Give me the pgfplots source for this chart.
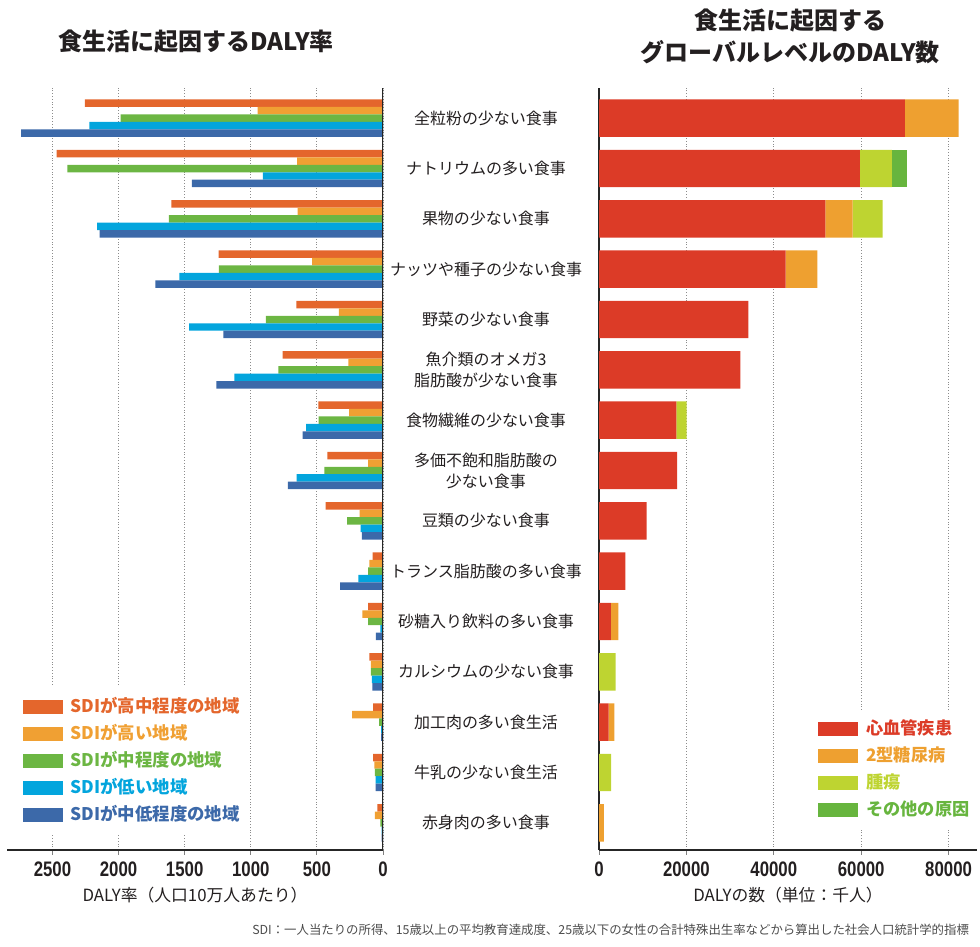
\documentclass[border=0pt]{standalone}
\usepackage{fontspec}
\setmainfont{Noto Sans CJK JP}
\newfontfamily\numfont{Liberation Sans}
\usepackage{graphicx}
\usepackage{pgfplots}
\usepackage{pgfplotstable}
\pgfplotsset{compat=1.18}

\definecolor{sdiA}{HTML}{E4662C}
\definecolor{sdiB}{HTML}{F0A033}
\definecolor{sdiC}{HTML}{6CB643}
\definecolor{sdiD}{HTML}{03A5DD}
\definecolor{sdiE}{HTML}{3C69A9}
\definecolor{cvd}{HTML}{DC3B27}
\definecolor{dm}{HTML}{EEA030}
\definecolor{tumor}{HTML}{BED431}
\definecolor{other}{HTML}{67B53E}
\definecolor{txt}{HTML}{231F20}

\newcommand\tl[1]{\scalebox{0.8}[1]{#1}}
\newcommand\tickfont{\numfont\bfseries\fontsize{10.5}{12}\selectfont}

% DALY rate per 100k, by SDI group (y = 14 is the top row)
\pgfplotstableread{
y a b c d e
14 2254 948 1984 2221 2738
13 2468 650 2388 908 1445
12 1601 645 1619 2163 2143
11 1243 537 1241 1541 1722
10 656 333 885 1467 1208
9 759 262 792 1125 1261
8 489 257 486 582 608
7 421 113 444 653 719
6 434 176 272 169 159
5 78 103 113 187 325
4 113 156 113 20 53
3 103 91 91 85 81
2 75 234 30 15 15
1 75 66 61 55 55
0 43 61 20 10 10
}\ratetable

% global DALY count (thousands), by cause
\pgfplotstableread{
y cvd dm tumor other
14 70000 12300 0 0
13 59700 0 7300 3500
12 51800 6250 6870 0
11 42700 7250 0 0
10 34200 0 0 0
9 32350 0 0 0
8 17700 0 2370 0
7 17850 0 0 0
6 10900 0 0 0
5 6050 0 0 0
4 2700 1750 0 0
3 0 0 3800 0
2 2200 1300 0 0
1 0 0 2750 0
0 0 1100 0 0
}\dalytable

\pgfplotsset{
  swatch/.style={legend image code/.code={\fill[##1] (0pt,-3.6pt) rectangle (20pt,3.6pt); \path (23pt,0pt);}},
  common/.style={
    scale only axis, height=381pt, anchor=south west,
    ymin=-0.54, ymax=14.6,
    axis x line*=bottom,
    axis line style={-, black!85, line width=0.6pt},
    tick align=outside, major tick length=2.5pt,
    x tick style={black!50, line width=0.4pt},
    xticklabel style={font=\tickfont, text=txt},
    xmajorgrids, grid style={black!45, densely dotted, line width=0.4pt},
    xlabel style={at={(axis description cs:0.5,0)}, anchor=center, yshift=-22.5pt,
      font=\fontsize{8.4}{10}\selectfont, text=txt},
    legend cell align=left,
  },
}

\begin{document}
\begin{tikzpicture}
\path[use as bounding box] (0,0) rectangle (490pt,473.5pt);

\begin{axis}[common,
  at={(3.5pt,48.5pt)}, width=188pt,
  x dir=reverse, xmin=0, xmax=2844,
  xbar, bar width=3.74pt,
  axis y line=none,
  xtick={0,500,...,2500},
  xticklabels={\tl{0},\tl{500},\tl{1000},\tl{1500},\tl{2000},\tl{2500}},
  ytick=\empty,
  xlabel={DALY率（人口10万人あたり）},
  legend style={at={(axis description cs:0.019,0.02)}, anchor=south west,
    draw=none, fill=white, inner sep=4pt, row sep=2pt,
    font=\bfseries\fontsize{8.7}{10}\selectfont,
    nodes={inner sep=1pt, text height=7.5pt, text depth=2pt}},
]
\addplot[fill=sdiA, draw=none, bar shift=7.48pt, swatch] table[x=a, y=y] {\ratetable};
\addlegendentry{\textcolor{sdiA}{SDIが高中程度の地域}}
\addplot[fill=sdiB, draw=none, bar shift=3.74pt, swatch] table[x=b, y=y] {\ratetable};
\addlegendentry{\textcolor{sdiB}{SDIが高い地域}}
\addplot[fill=sdiC, draw=none, bar shift=0pt, swatch] table[x=c, y=y] {\ratetable};
\addlegendentry{\textcolor{sdiC}{SDIが中程度の地域}}
\addplot[fill=sdiD, draw=none, bar shift=-3.74pt, swatch] table[x=d, y=y] {\ratetable};
\addlegendentry{\textcolor{sdiD}{SDIが低い地域}}
\addplot[fill=sdiE, draw=none, bar shift=-7.48pt, swatch] table[x=e, y=y] {\ratetable};
\addlegendentry{\textcolor{sdiE}{SDIが中低程度の地域}}
\draw[black!85, line width=0.6pt] (axis cs:0,-0.54) -- (axis cs:0,14.6);
\end{axis}

\begin{axis}[common,
  at={(299.5pt,48.5pt)}, width=189pt,
  xmin=0, xmax=86500,
  xbar stacked, bar width=18.7pt,
  axis y line*=left,
  scaled x ticks=false,
  xtick={0,20000,...,80000},
  xticklabels={\tl{0},\tl{20000},\tl{40000},\tl{60000},\tl{80000}},
  ytick={0,...,14},
  y tick style={draw=none},
  yticklabels={赤身肉の多い食事, 牛乳の少ない食生活, 加工肉の多い食生活,
    カルシウムの少ない食事, 砂糖入り飲料の多い食事, トランス脂肪酸の多い食事,
    豆類の少ない食事, {多価不飽和脂肪酸の\\少ない食事}, 食物繊維の少ない食事,
    {魚介類のオメガ3\\脂肪酸が少ない食事}, 野菜の少ない食事,
    ナッツや種子の少ない食事, 果物の少ない食事, ナトリウムの多い食事,
    全粒粉の少ない食事},
  yticklabel style={anchor=center, xshift=-54pt, align=center,
    font=\fontsize{8}{10.5}\selectfont, text=txt},
  xlabel={DALYの数（単位：千人）},
  legend style={at={(axis description cs:0.558,0.026)}, anchor=south west,
    draw=none, fill=white, inner sep=4pt, row sep=2pt,
    font=\bfseries\fontsize{8.6}{10}\selectfont,
    nodes={inner sep=1pt, text height=7.5pt, text depth=2pt}},
]
\addplot[fill=cvd, draw=none, swatch] table[x=cvd, y=y] {\dalytable};
\addlegendentry{\textcolor{cvd}{心血管疾患}}
\addplot[fill=dm, draw=none, swatch] table[x=dm, y=y] {\dalytable};
\addlegendentry{\textcolor{dm}{2型糖尿病}}
\addplot[fill=tumor, draw=none, swatch] table[x=tumor, y=y] {\dalytable};
\addlegendentry{\textcolor{tumor}{腫瘍}}
\addplot[fill=other, draw=none, swatch] table[x=other, y=y] {\dalytable};
\addlegendentry{\textcolor{other}{その他の原因}}
\end{axis}

\node[font=\bfseries\fontsize{12}{14}\selectfont, text=txt] at (98pt,452.5pt) {食生活に起因するDALY率};
\node[font=\bfseries\fontsize{12}{16}\selectfont, text=txt, align=center] at (395pt,455.5pt)
  {食生活に起因する\\グローバルレベルのDALY数};
\node[anchor=east, font=\fontsize{6.2}{7}\selectfont, text=black!70] at (488pt,8.5pt)
  {SDI：一人当たりの所得、15歳以上の平均教育達成度、25歳以下の女性の合計特殊出生率などから算出した社会人口統計学的指標};
\end{tikzpicture}
\end{document}
